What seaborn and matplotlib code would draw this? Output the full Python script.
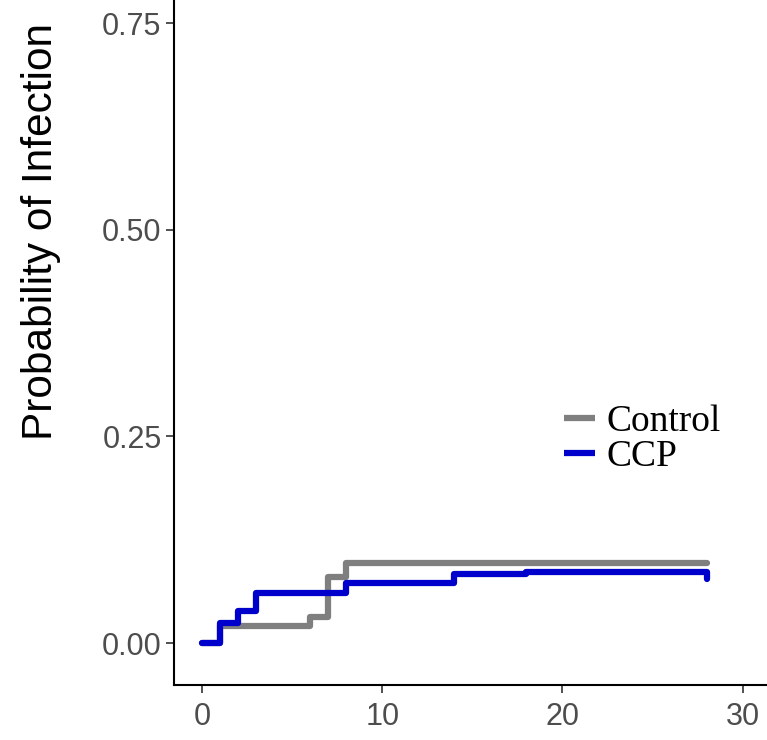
import numpy as np
import pandas as pd
import seaborn as sns
import matplotlib.pyplot as plt

# step curves (days, cumulative probability)
control_days = [0, 1, 6, 7, 8, 28]
control_prob = [0.0, 0.021, 0.032, 0.080, 0.0964, 0.0964]
ccp_days = [0, 1, 2, 3, 8, 14, 18, 28, 28]
ccp_prob = [0.0, 0.0246, 0.039, 0.061, 0.073, 0.084, 0.0855, 0.0855, 0.077]

GROUPS = ["Control", "CCP"]
COLORS = {"Control": "#7f7f7f", "CCP": "#0000CD"}

df = pd.concat([
    pd.DataFrame({"day": control_days, "prob": control_prob, "group": "Control"}),
    pd.DataFrame({"day": ccp_days, "prob": ccp_prob, "group": "CCP"}),
], ignore_index=True)

sns.set_style("white")
plt.rcParams["font.family"] = ["Liberation Sans", "DejaVu Sans"]

fig = plt.figure(figsize=(7.67, 7.4), dpi=100)
ax = fig.add_axes([174 / 767, 1 - 685 / 740, 1 - 174 / 767, 685 / 740])

sns.lineplot(data=df, x="day", y="prob", hue="group", hue_order=GROUPS,
             palette=COLORS, drawstyle="steps-post", estimator=None,
             sort=False, linewidth=4.5, ax=ax)

ax.set_xlim(-1.58, 31.36)
ax.set_ylim(-0.0508, 0.778)
ax.set_xticks([0, 10, 20, 30])
ax.set_yticks([0.0, 0.25, 0.5, 0.75])
ax.set_yticklabels(["0.00", "0.25", "0.50", "0.75"])
ax.tick_params(axis="both", labelsize=22, colors="#333333", labelcolor="#4d4d4d",
               length=6, width=1.2, direction="out", pad=3, left=True, bottom=True)
ax.tick_params(axis="x", pad=6)

for side in ["top", "right"]:
    ax.spines[side].set_visible(False)
for side in ["left", "bottom"]:
    ax.spines[side].set_color("black")
    ax.spines[side].set_linewidth(1.5)

ax.set_xlabel("")
ax.set_ylabel("Probability of Infection", fontsize=30.5, color="black")
ax.yaxis.set_label_coords(-0.19, 0.662)

handles, labels = ax.get_legend_handles_labels()
leg = ax.legend(handles=handles, labels=labels, frameon=False,
                loc="upper left", bbox_to_anchor=((538 - 174) / 593, 1 - 378 / 685),
                prop={"family": "Liberation Serif", "size": 27},
                handlelength=0.83, handletextpad=0.3, labelspacing=0.03,
                borderpad=0.2, labelcolor="black")
for line in leg.get_lines():
    line.set_solid_capstyle("butt")

fig.savefig("out.png", dpi=100)
